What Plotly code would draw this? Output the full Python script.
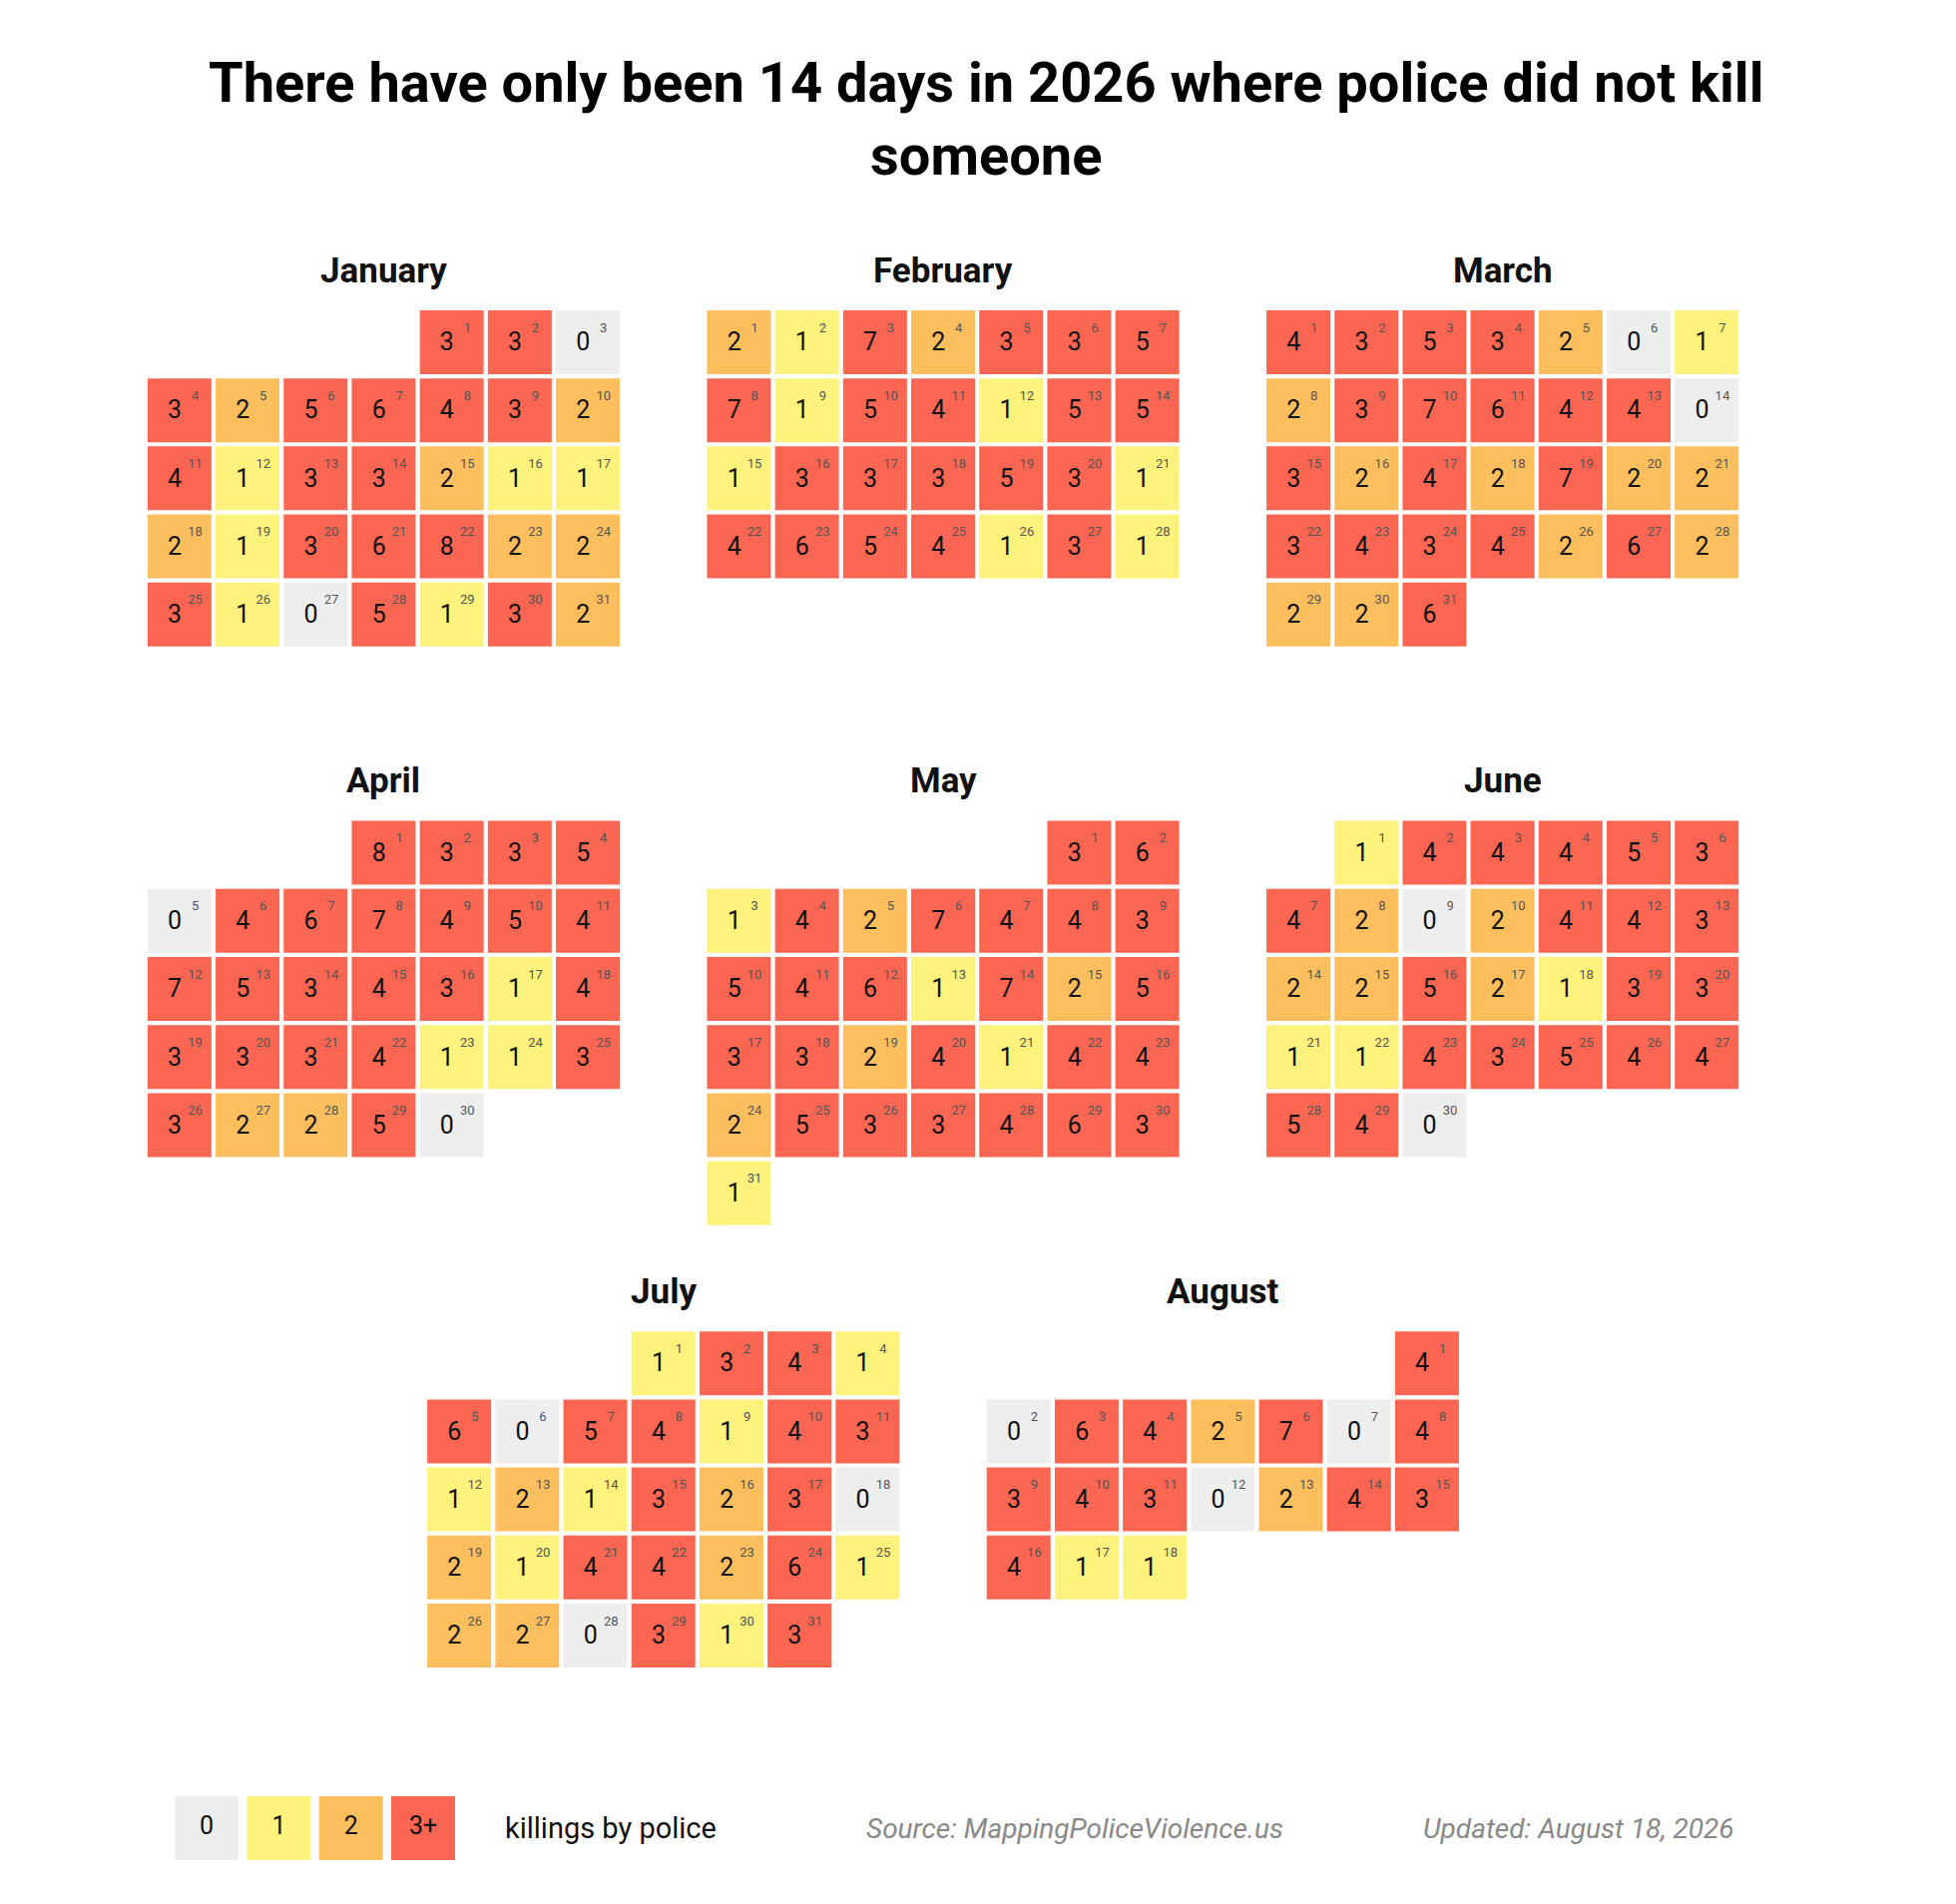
import datetime
import plotly.graph_objects as go

months = ["January", "February", "March", "April", "May", "June", "July", "August"]
jan = [3,3,0,3,2,5,6,4,3,2,4,1,3,3,2,1,1,2,1,3,6,8,2,2,3,1,0,5,1,3,2]
feb = [2,1,7,2,3,3,5,7,1,5,4,1,5,5,1,3,3,3,5,3,1,4,6,5,4,1,3,1]
mar = [4,3,5,3,2,0,1,2,3,7,6,4,4,0,3,2,4,2,7,2,2,3,4,3,4,2,6,2,2,2,6]
apr = [8,3,3,5,0,4,6,7,4,5,4,7,5,3,4,3,1,4,3,3,3,4,1,1,3,3,2,2,5,0]
may = [3,6,1,4,2,7,4,4,3,5,4,6,1,7,2,5,3,3,2,4,1,4,4,2,5,3,3,4,6,3,1]
jun = [1,4,4,4,5,3,4,2,0,2,4,4,3,2,2,5,2,1,3,3,1,1,4,3,5,4,4,5,4,0]
jul = [1,3,4,1,6,0,5,4,1,4,3,1,2,1,3,2,3,0,2,1,4,4,2,6,1,2,2,0,3,1,3]
aug = [4,0,6,4,2,7,0,4,3,4,3,0,2,4,3,4,1,1]
values = [jan, feb, mar, apr, may, jun, jul, aug]
year = 2026
legend_labels = ["0", "1", "2", "3+"]
colors = ["#eeeeee", "#fdf27c", "#fdbf5e", "#fb6652"]

def col_of(v):
    return colors[min(v, 3)]

xs, ys, cs, vt, dt = [], [], [], [], []
fig = go.Figure()
for m, vals in enumerate(values):
    brow, bcol = divmod(m, 3)
    xoff = bcol * 8.22 + (4.11 if brow == 2 else 0)
    yoff = brow * 7.5
    fw = (datetime.date(year, m + 1, 1).weekday() + 1) % 7
    for d, v in enumerate(vals, start=1):
        r, c = divmod(fw + d - 1, 7)
        xs.append(xoff + c + 0.5); ys.append(yoff + r + 0.5)
        cs.append(col_of(v)); vt.append(str(v)); dt.append(str(d))
    fig.add_annotation(x=xoff + 3.5, y=yoff - 0.55, text=f"<b>{months[m]}</b>",
                       showarrow=False, font=dict(size=35, color="#111", family="Roboto"))

fig.add_trace(go.Scatter(x=xs, y=ys, mode="markers",
                         marker=dict(symbol="square", size=64, color=cs, line=dict(width=0)),
                         hoverinfo="skip"))
fig.add_trace(go.Scatter(x=[x - 0.07 for x in xs], y=[y + 0.03 for y in ys], mode="text", text=vt,
                         textfont=dict(size=25, color="#111", family="Roboto"), hoverinfo="skip"))
fig.add_trace(go.Scatter(x=[x + 0.23 for x in xs], y=[y - 0.2 for y in ys], mode="text", text=dt,
                         textfont=dict(size=13, color="#555", family="Roboto"), hoverinfo="skip"))

# legend
lx = [0.9 + i * 1.06 for i in range(4)]
ly = 22.33
fig.add_trace(go.Scatter(x=lx, y=[ly] * 4, mode="markers+text", text=legend_labels,
                         marker=dict(symbol="square", size=64, color=colors, line=dict(width=0)),
                         textfont=dict(size=25, color="#111", family="Roboto"), hoverinfo="skip"))
fig.add_annotation(x=5.26, y=ly, text="killings by police", xanchor="left", showarrow=False,
                   font=dict(size=29, color="#111", family="Roboto"))
fig.add_annotation(x=13.65, y=ly, text="<i>Source: MappingPoliceViolence.us</i>", showarrow=False,
                   font=dict(size=28, color="#888", family="Roboto"))
fig.add_annotation(x=21.05, y=ly, text="<i>Updated: August 18, 2026</i>", showarrow=False,
                   font=dict(size=28, color="#888", family="Roboto"))

fig.add_annotation(xref="paper", yref="paper", x=0.5, y=1 - 40 / 1908, yanchor="top",
                   text="<b>There have only been 14 days in 2026 where police did not kill<br>someone</b>",
                   showarrow=False, align="center",
                   font=dict(size=56, color="#000", family="Roboto"))

fig.update_layout(
    width=1960, height=1908, margin=dict(l=0, r=0, t=0, b=0),
    paper_bgcolor="white", plot_bgcolor="white", showlegend=False,
    xaxis=dict(range=[-2.02, 26.72], visible=False, fixedrange=True),
    yaxis=dict(range=[23.56, -4.41], visible=False, fixedrange=True),
)
fig.write_html("out.html")
